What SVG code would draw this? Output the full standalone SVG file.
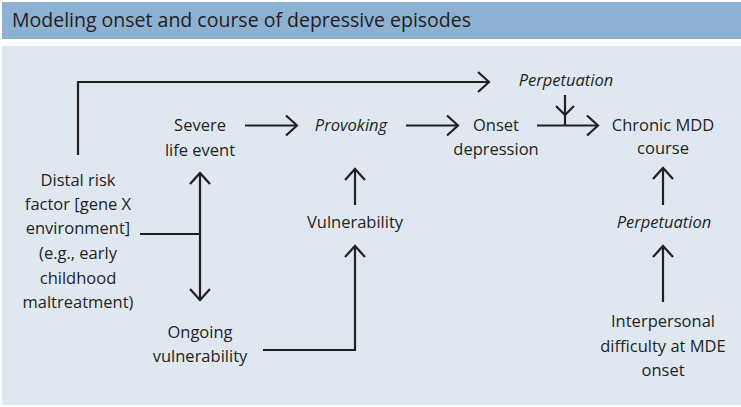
<svg xmlns="http://www.w3.org/2000/svg" width="741" height="407" viewBox="0 0 741 407">
  <style>
    .t { font-family: "Open Sans", "Liberation Sans", sans-serif; font-size: 16.5px; fill: #231f20; text-anchor: middle; }
    .i { font-style: italic; }
    .title { font-family: "Open Sans", "Liberation Sans", sans-serif; font-size: 19.5px; fill: #231f20; }
    .c { fill: none; stroke: #231f20; stroke-width: 2.2; }
  </style>
  <defs>
    <marker id="ah" markerUnits="userSpaceOnUse" markerWidth="24" markerHeight="24" viewBox="-12 -12 24 24" refX="0" refY="0" orient="auto-start-reverse">
      <path d="M-11,-10 L0,0 L-11,10" fill="none" stroke="#231f20" stroke-width="2.2"/>
    </marker>
  </defs>
  <rect x="2" y="2" width="739" height="37" fill="#8cb1d3"/>
  <rect x="2" y="46" width="739" height="359" fill="#dfe8f1"/>
  <text class="title" x="12" y="27">Modeling onset and course of depressive episodes</text>

  <g id="connectors">
    <path class="c" d="M78 155 V82 H489" marker-end="url(#ah)"/>
    <path class="c" d="M245 125.5 H297" marker-end="url(#ah)"/>
    <path class="c" d="M406 125.5 H458" marker-end="url(#ah)"/>
    <path class="c" d="M537 125.5 H598" marker-end="url(#ah)"/>
    <path class="c" d="M565 95 V125.5"/>
    <path class="c" d="M556 106 L565 115 L574 106"/>
    <path class="c" d="M355 205 V169" marker-end="url(#ah)"/>
    <path class="c" d="M663 205 V168" marker-end="url(#ah)"/>
    <path class="c" d="M663 302 V246" marker-end="url(#ah)"/>
    <path class="c" d="M140 234 H200"/>
    <path class="c" d="M200 173 V300" marker-start="url(#ah)" marker-end="url(#ah)"/>
    <path class="c" d="M263 350 H355 V246" marker-end="url(#ah)"/>
  </g>

  <g id="distal">
    <text class="t" x="78" y="186">Distal risk</text>
    <text class="t" x="78" y="210">factor [gene X</text>
    <text class="t" x="78" y="234">environment]</text>
    <text class="t" x="78" y="259">(e.g., early</text>
    <text class="t" x="78" y="284">childhood</text>
    <text class="t" x="78" y="308">maltreatment)</text>
  </g>
  <g id="severe">
    <text class="t" x="200" y="131">Severe</text>
    <text class="t" x="200" y="156">life event</text>
  </g>
  <g id="provoking">
    <text class="t i" x="351" y="131">Provoking</text>
  </g>
  <g id="onset">
    <text class="t" x="496" y="131">Onset</text>
    <text class="t" x="496" y="155">depression</text>
  </g>
  <g id="perpetuation-top">
    <text class="t i" x="566" y="86">Perpetuation</text>
  </g>
  <g id="chronic">
    <text class="t" x="663" y="131">Chronic MDD</text>
    <text class="t" x="663" y="154">course</text>
  </g>
  <g id="vulnerability">
    <text class="t" x="355" y="228">Vulnerability</text>
  </g>
  <g id="perpetuation-bottom">
    <text class="t i" x="664" y="228">Perpetuation</text>
  </g>
  <g id="ongoing">
    <text class="t" x="200" y="338">Ongoing</text>
    <text class="t" x="200" y="362">vulnerability</text>
  </g>
  <g id="interpersonal">
    <text class="t" x="663" y="327">Interpersonal</text>
    <text class="t" x="663" y="352">difficulty at MDE</text>
    <text class="t" x="663" y="376">onset</text>
  </g>
</svg>
